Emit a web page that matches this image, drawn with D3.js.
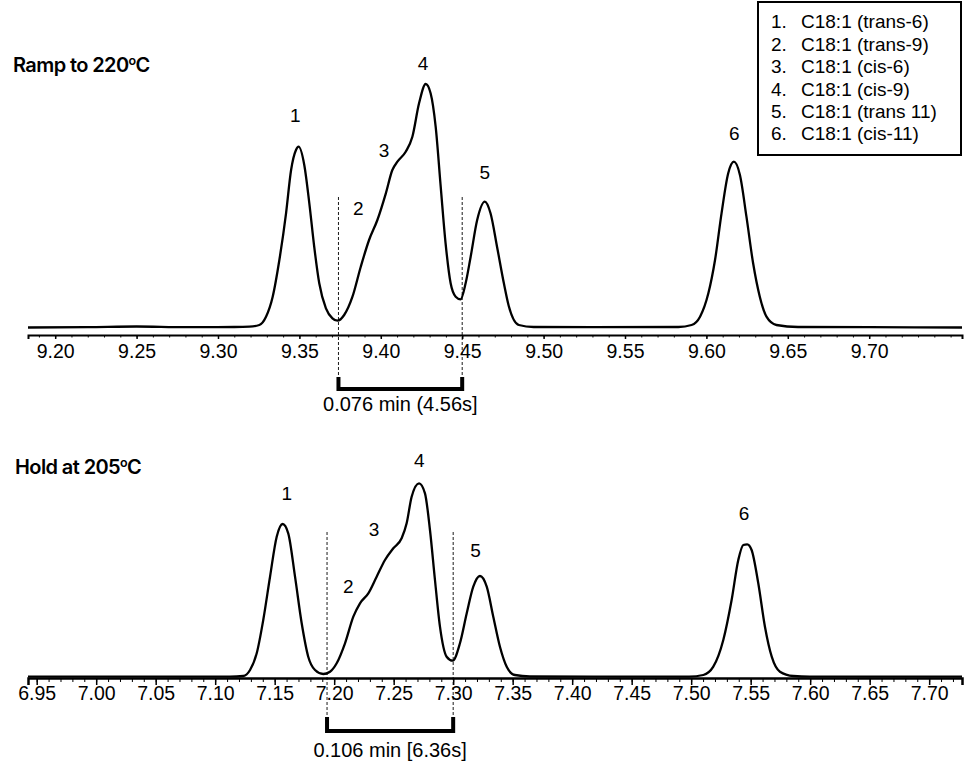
<!DOCTYPE html>
<html>
<head>
<meta charset="utf-8">
<script src="https://cdn.jsdelivr.net/npm/d3@7"></script>
<style>
  body { margin: 0; background: #fff; }
  text { font-family: "Liberation Sans", Arial, sans-serif; fill: #000; }
  .title { font-family: Inter, "Liberation Sans", sans-serif; font-weight: 600; letter-spacing: -0.6px; }
</style>
</head>
<body>
<svg id="chart" width="964" height="775"></svg>
<script>
// ramp to 220 C: retention time (min) and detector signal (arbitrary units)
const rampTimes = [9.1833, 9.22, 9.25, 9.28, 9.31, 9.3193, 9.3254, 9.3295, 9.3336, 9.3377,
  9.3418, 9.3449, 9.3479, 9.3495, 9.3530, 9.3561, 9.3591, 9.3622, 9.3663, 9.3703,
  9.3734, 9.3775, 9.3826, 9.3877, 9.3928, 9.3979, 9.4031, 9.4071, 9.4102, 9.4153,
  9.4194, 9.4235, 9.4276, 9.4306, 9.4337, 9.4368, 9.4398, 9.4429, 9.4460, 9.4490,
  9.4521, 9.4552, 9.4592, 9.4639, 9.4674, 9.4714, 9.4756, 9.4786, 9.4848, 9.4939,
  9.53, 9.5828, 9.5909, 9.5961, 9.6012, 9.6053, 9.6093, 9.6134, 9.6169, 9.6206,
  9.6246, 9.6287, 9.6328, 9.6369, 9.6430, 9.6563, 9.70, 9.757];
const rampSignal = [0.5, 0.8, 1.5, 0.8, 1.0, 1.3, 3, 11.3, 31.3, 68,
  114.7, 158, 178, 181.3, 163, 124.7, 81.3, 44.7, 19.7, 9.7,
  7.3, 13, 31.3, 61.3, 88, 108, 134.7, 158, 166.3, 176.3,
  191.3, 224.7, 244, 234.7, 201.3, 141.3, 84.7, 44.7, 31.3, 28.7,
  44.7, 71.3, 108, 126.3, 114.7, 81.3, 44.7, 22, 3, 1,
  0.8, 1, 3, 11.3, 34.7, 68, 114.7, 154.7, 166.3, 153,
  111.3, 64.7, 31.3, 11.3, 3, 1, 0.8, 0.5];

// hold at 205 C
const holdTimes = [6.9427, 7.00, 7.05, 7.09, 7.1124, 7.1236, 7.1293, 7.1349, 7.1404, 7.1461,
  7.1517, 7.1567, 7.1614, 7.1671, 7.1727, 7.1782, 7.1839, 7.1908, 7.1965, 7.2021,
  7.2091, 7.2161, 7.2217, 7.2287, 7.2357, 7.2427, 7.2497, 7.2567, 7.2609, 7.2651,
  7.2713, 7.2763, 7.2805, 7.2847, 7.2889, 7.2945, 7.2996, 7.3057, 7.3114, 7.3169,
  7.3225, 7.3282, 7.3337, 7.3393, 7.3450, 7.3519, 7.3645, 7.42, 7.4982, 7.5102,
  7.5186, 7.5270, 7.5340, 7.5396, 7.5438, 7.5471, 7.5508, 7.5564, 7.5620, 7.5677,
  7.5746, 7.5858, 7.5998, 7.65, 7.7276];
const holdSignal = [0.3, 0.3, 0.3, 0.3, 0.3, 1, 7, 23.7, 57, 100.3,
  140.3, 153, 143.7, 100.3, 53.7, 20.3, 7, 3, 5.3, 13.7,
  33.7, 60.3, 73.7, 83.7, 100.3, 117, 128.7, 138.7, 153.7, 180.3,
  193.7, 183.7, 147, 97, 50.3, 20.3, 16.3, 33.7, 63.7, 90.3,
  101, 90.3, 60.3, 30.3, 10.3, 2, 0.5, 0.3, 0.3, 2,
  10.3, 37, 77, 117, 132, 132.7, 127, 93.7, 50.3, 20.3,
  5.3, 1, 0.3, 0.3, 0.3];

const peakIds = ["1", "2", "3", "4", "5", "6"];
const compounds = ["C18:1 (trans-6)", "C18:1 (trans-9)", "C18:1 (cis-6)",
  "C18:1 (cis-9)", "C18:1 (trans 11)", "C18:1 (cis-11)"];

// where each peak number sits (time, signal level)
const rampLabelTimes = [9.3475, 9.3861, 9.4020, 9.4259, 9.4639, 9.6171];
const rampLabelLevels = [213, 120, 178, 265, 156, 195];
const holdLabelTimes = [7.1601, 7.2119, 7.2335, 7.2715, 7.3189, 7.5444];
const holdLabelLevels = [184, 91, 148, 217, 127, 164];

const rampTicks = [9.20, 9.25, 9.30, 9.35, 9.40, 9.45, 9.50, 9.55, 9.60, 9.65, 9.70];
const holdTicks = [6.95, 7.00, 7.05, 7.10, 7.15, 7.20, 7.25, 7.30, 7.35, 7.40,
  7.45, 7.50, 7.55, 7.60, 7.65, 7.70];

const rampWindow = [9.374, 9.450];
const holdWindow = [7.194, 7.300];
const rampWindowText = "0.076 min (4.56s]";
const holdWindowText = "0.106 min [6.36s]";

const svg = d3.select("#chart");
svg.append("rect").attr("width", 964).attr("height", 775).attr("fill", "#fff");

const left = 28, right = 962;

const panels = [
  { title: "Ramp to 220", times: rampTimes, signal: rampSignal, domain: [9.1833, 9.757],
    ticks: rampTicks, labelTimes: rampLabelTimes, labelLevels: rampLabelLevels,
    win: rampWindow, winText: rampWindowText,
    titleX: 13, titleY: 72, baseY: 328, axisY: 335, axisW: 2, major: 4, minor: 2.5, pad: 5,
    dashTop: 197, postTop: 377, barY: 389, textY: 411 },
  { title: "Hold at 205", times: holdTimes, signal: holdSignal, domain: [6.9427, 7.7276],
    ticks: holdTicks, labelTimes: holdLabelTimes, labelLevels: holdLabelLevels,
    win: holdWindow, winText: holdWindowText,
    titleX: 15, titleY: 474, baseY: 677, axisY: 678, axisW: 2.5, major: 7, minor: 4, pad: 1.4,
    dashTop: 532, postTop: 717, barY: 731, textY: 757 }
];

function drawPanel(p) {
  const x = d3.scaleLinear().domain(p.domain).range([left, right]);
  const y = d3.scaleLinear().domain([0, 250]).range([p.baseY, p.baseY - 250]);
  const g = svg.append("g");

  // title
  const t = g.append("text").attr("class", "title")
    .attr("x", p.titleX).attr("y", p.titleY).attr("font-size", 20);
  t.append("tspan").text(p.title);
  t.append("tspan").attr("dy", -7).attr("font-size", 12.5).text("o");
  t.append("tspan").attr("dy", 7).text("C");

  // minor ticks
  const minor = d3.range(Math.ceil(p.domain[0] * 100), Math.floor(p.domain[1] * 100) + 1)
    .map((d) => d / 100);
  const minorAxis = g.append("g")
    .attr("transform", `translate(0,${p.axisY})`)
    .call(d3.axisBottom(x).tickValues(minor).tickSize(p.minor).tickFormat(""));
  minorAxis.select(".domain").remove();
  minorAxis.selectAll("line").attr("stroke", "#000").attr("stroke-width", 1);

  // major ticks + labels
  const axis = g.append("g")
    .attr("transform", `translate(0,${p.axisY})`)
    .call(d3.axisBottom(x).tickValues(p.ticks).tickSizeOuter(0)
      .tickSize(p.major).tickPadding(p.pad).tickFormat(d3.format(".2f")));
  axis.select(".domain").attr("stroke", "#000").attr("stroke-width", p.axisW);
  axis.selectAll(".tick line").attr("stroke", "#000").attr("stroke-width", 1.5);
  axis.selectAll(".tick text").attr("font-size", 19.5)
    .attr("font-family", '"Liberation Sans", Arial, sans-serif').attr("fill", "#111");

  // dashed window markers
  g.selectAll(".win").data(p.win).enter().append("line")
    .attr("x1", (d) => x(d)).attr("x2", (d) => x(d))
    .attr("y1", p.dashTop).attr("y2", p.postTop)
    .attr("stroke", "#000").attr("stroke-width", 0.9).attr("stroke-dasharray", "3,2");

  // bracket
  const x0 = x(p.win[0]), x1 = x(p.win[1]);
  g.append("path")
    .attr("d", `M${x0},${p.postTop}V${p.barY}H${x1}V${p.postTop}`)
    .attr("fill", "none").attr("stroke", "#000").attr("stroke-width", 4)
    .attr("stroke-linejoin", "miter");
  g.append("text").attr("x", (x0 + x1) / 2).attr("y", p.textY)
    .attr("text-anchor", "middle").attr("font-size", 20).text(p.winText);

  // trace
  const pts = p.times.map((d, i) => [d, p.signal[i]]);
  g.append("path").datum(pts)
    .attr("fill", "none").attr("stroke", "#000").attr("stroke-width", 2.3)
    .attr("stroke-linejoin", "round")
    .attr("d", d3.line().x((d) => x(d[0])).y((d) => y(d[1])).curve(d3.curveMonotoneX));

  // peak numbers
  g.selectAll(".pk").data(peakIds).enter().append("text")
    .attr("x", (d, i) => x(p.labelTimes[i]))
    .attr("y", (d, i) => y(p.labelLevels[i]))
    .attr("dy", "0.36em").attr("text-anchor", "middle").attr("font-size", 19)
    .text((d) => d);
}

panels.forEach(drawPanel);

// legend
const legend = svg.append("g");
legend.append("rect").attr("x", 758).attr("y", 2).attr("width", 203).attr("height", 153)
  .attr("fill", "#fff").attr("stroke", "#000").attr("stroke-width", 2);
compounds.forEach((c, i) => {
  const row = legend.append("text").attr("y", 21.5 + i * 22.4).attr("dy", "0.36em")
    .attr("font-size", 19);
  row.append("tspan").attr("x", 771).text(peakIds[i] + ".");
  row.append("tspan").attr("x", 801).text(c);
});
</script>
</body>
</html>
